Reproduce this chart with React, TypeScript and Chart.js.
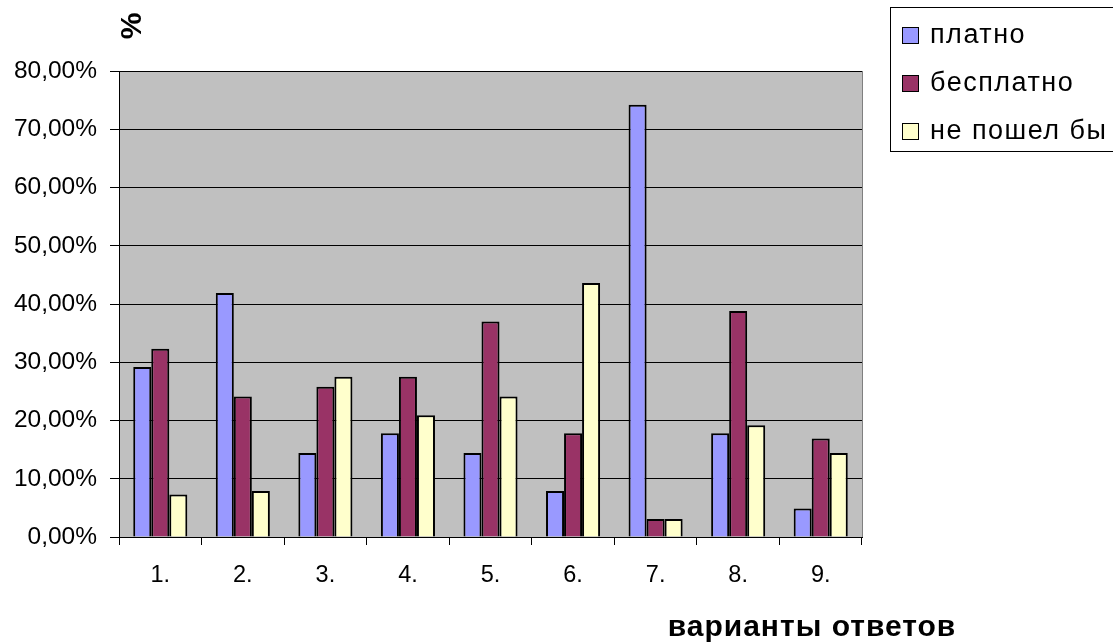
import React, { useEffect, useRef } from "react";
import { Chart, registerables } from "chart.js";

Chart.register(...registerables);

const categories = ["1.", "2.", "3.", "4.", "5.", "6.", "7.", "8.", "9."];
const seriesNames = ["платно", "бесплатно", "не пошел бы"];
const paid = [29.2, 41.9, 14.4, 17.8, 14.4, 7.9, 74.2, 17.8, 4.9];
const free = [32.3, 24.1, 25.8, 27.5, 37.0, 17.8, 3.1, 38.8, 16.9];
const wouldNotGo = [7.3, 7.9, 27.5, 20.9, 24.1, 43.6, 3.1, 19.2, 14.4];
const seriesColors = ["#9999FF", "#993366", "#FFFFCC"];
const yTitle = "%";
const xTitle = "варианты ответов";

const FONT = "'Liberation Sans', Arial, sans-serif";

const decorPlugin = {
  id: "decor",
  beforeDraw(chart: any) {
    const { ctx, chartArea } = chart;
    ctx.save();
    ctx.fillStyle = "#C0C0C0";
    ctx.fillRect(chartArea.left, chartArea.top, chartArea.right - chartArea.left, chartArea.bottom - chartArea.top);
    ctx.strokeStyle = "#808080";
    ctx.lineWidth = 1;
    ctx.strokeRect(chartArea.left + 0.5, chartArea.top + 0.5, chartArea.right - chartArea.left, chartArea.bottom - chartArea.top);
    ctx.restore();
  },
  afterDraw(chart: any) {
    const { ctx, chartArea } = chart;
    ctx.save();
    // axis titles
    ctx.fillStyle = "#000";
    ctx.font = `bold 30px ${FONT}`;
    ctx.textAlign = "center";
    ctx.textBaseline = "middle";
    ctx.save();
    ctx.translate(chartArea.left + 14, chartArea.top - 45);
    ctx.rotate(-Math.PI / 2);
    ctx.fillText(yTitle, 0, 0);
    ctx.restore();
    (ctx as any).letterSpacing = "1px";
    ctx.fillText(xTitle, chartArea.right - 50, chartArea.bottom + 91);

    // legend
    const lx = chartArea.right + 28;
    const ly = 7;
    (ctx as any).letterSpacing = "0px";
    ctx.strokeStyle = "#000";
    ctx.lineWidth = 1;
    ctx.fillStyle = "#fff";
    ctx.fillRect(lx + 0.5, ly + 0.5, 300, 144);
    ctx.strokeRect(lx + 0.5, ly + 0.5, 300, 144);
    ctx.font = `27px ${FONT}`;
    ctx.textAlign = "left";
    ctx.textBaseline = "middle";
    chart.data.datasets.forEach((ds: any, i: number) => {
      const cy = ly + 28 + i * 48;
      (ctx as any).letterSpacing = "0px";
      ctx.fillStyle = ds.backgroundColor;
      ctx.fillRect(lx + 12.5, cy - 7.5, 16, 16);
      ctx.strokeStyle = "#000";
      ctx.strokeRect(lx + 12.5, cy - 7.5, 16, 16);
      ctx.fillStyle = "#000";
      (ctx as any).letterSpacing = "1.5px";
      ctx.fillText(ds.label, lx + 40, cy + 1);
    });
    ctx.restore();
  },
};

export default function App() {
  const ref = useRef<HTMLCanvasElement | null>(null);
  useEffect(() => {
    document.body.style.margin = "0";
    const values = [paid, free, wouldNotGo];
    const chart = new Chart(ref.current!, {
      type: "bar",
      data: {
        labels: categories,
        datasets: seriesNames.map((name, i) => ({
          label: name,
          data: values[i],
          backgroundColor: seriesColors[i],
          borderColor: "#000",
          borderWidth: 2,
          categoryPercentage: 0.655,
          barPercentage: 1,
        })),
      },
      options: {
        responsive: false,
        animation: false,
        layout: { padding: { top: 71, right: 251, left: 0, bottom: 0 } },
        plugins: { legend: { display: false }, tooltip: { enabled: false } },
        scales: {
          x: {
            offset: true,
            grid: { offset: true, drawOnChartArea: false, drawTicks: true, tickLength: 8, color: "#000" },
            border: { display: true, color: "#000", width: 1 },
            ticks: { color: "#000", font: { family: FONT, size: 23.5 }, padding: 16, maxRotation: 0 },
            afterFit(s: any) { s.height = 105; },
          },
          y: {
            min: 0,
            max: 80,
            grid: { color: "#000", lineWidth: 1, tickLength: 9, drawTicks: true },
            border: { display: true, color: "#000", width: 1 },
            ticks: {
              stepSize: 10,
              color: "#000",
              padding: 13,
              font: { family: FONT, size: 24.5 },
              callback: (v: any) => Number(v).toFixed(2).replace(".", ",") + "%",
            },
            afterFit(s: any) { s.width = 119; },
          },
        },
      },
      plugins: [decorPlugin],
    });
    return () => chart.destroy();
  }, []);
  return (
    <div style={{ position: "absolute", left: 0, top: 0, width: 1113, height: 642, background: "#fff" }}>
      <canvas ref={ref} width={1113} height={642} />
    </div>
  );
}
